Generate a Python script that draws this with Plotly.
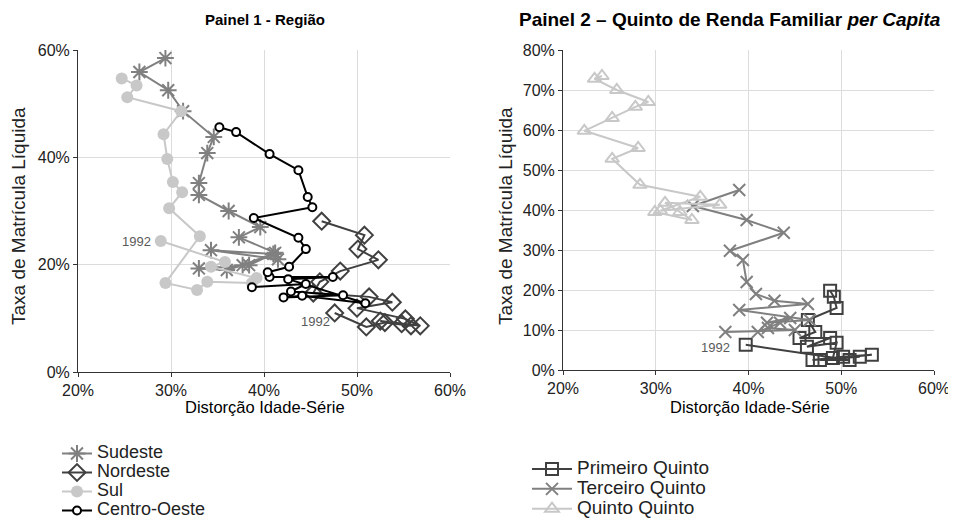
import plotly.graph_objects as go

# Painel 1 - Regiao (distorcao idade-serie x taxa de matricula liquida, em %)
sudeste_x = [41.5, 34.3, 41.0, 38.4, 33.0, 36.0, 37.7, 41.2, 37.3, 39.6, 36.2, 33.0, 33.0, 33.9, 34.6, 31.3, 29.7, 26.6, 29.4]
sudeste_y = [21.0, 22.7, 22.0, 19.9, 19.3, 19.0, 19.9, 22.2, 25.1, 27.0, 30.0, 33.0, 35.2, 40.8, 43.8, 48.6, 52.5, 55.9, 58.5]

nordeste_x = [47.6, 51.0, 53.0, 55.8, 52.5, 54.8, 56.8, 55.2, 50.0, 53.8, 51.3, 45.3, 46.0, 48.2, 52.3, 50.1, 50.8, 46.2]
nordeste_y = [11.0, 8.4, 9.2, 8.6, 9.5, 9.0, 8.6, 9.9, 11.9, 13.0, 14.0, 14.7, 16.8, 18.8, 20.9, 22.9, 25.5, 28.1]

sul_x = [28.9, 35.8, 34.3, 39.2, 38.7, 33.9, 32.8, 29.4, 33.1, 29.8, 31.2, 30.2, 29.6, 29.2, 31.1, 25.3, 26.3, 24.7]
sul_y = [24.4, 20.5, 19.6, 17.5, 16.6, 16.8, 15.3, 16.6, 25.3, 30.5, 33.5, 35.4, 39.7, 44.3, 48.6, 51.2, 53.4, 54.7]

co_x = [38.7, 44.5, 42.9, 48.5, 42.1, 44.1, 50.9, 42.6, 47.4, 40.6, 40.4, 42.7, 44.5, 43.7, 38.9, 45.2, 44.7, 43.7, 40.6, 37.0, 35.2]
co_y = [15.8, 16.4, 15.0, 14.3, 13.9, 14.2, 12.8, 17.3, 17.7, 17.7, 18.6, 19.6, 22.9, 25.0, 28.7, 30.7, 32.6, 37.6, 40.6, 44.7, 45.6]

# Painel 2 - Quinto de renda familiar per capita
primeiro_x = [39.7, 50.9, 47.7, 53.3, 50.2, 46.9, 52.0, 49.1, 49.5, 46.3, 48.8, 45.5, 47.2, 46.4, 49.5, 49.2, 48.8]
primeiro_y = [6.3, 2.5, 2.5, 3.8, 3.3, 2.5, 3.3, 3.0, 6.8, 5.8, 8.0, 8.0, 9.5, 12.5, 15.5, 18.3, 19.8]

terceiro_x = [37.5, 45.0, 42.1, 41.0, 43.4, 44.5, 42.0, 46.6, 39.0, 46.4, 42.8, 40.8, 39.8, 39.4, 38.0, 43.8, 39.8, 34.0, 39.0]
terceiro_y = [9.5, 10.0, 10.5, 9.5, 11.8, 13.0, 11.8, 12.5, 15.0, 16.5, 17.3, 19.0, 22.0, 27.5, 29.8, 34.3, 37.5, 41.0, 45.0]

quinto_x = [29.9, 33.9, 32.6, 31.0, 36.9, 30.5, 34.8, 28.3, 25.3, 28.1, 22.3, 25.3, 27.8, 29.2, 25.8, 23.4, 24.2]
quinto_y = [39.5, 37.5, 39.5, 41.8, 41.3, 39.8, 43.3, 46.3, 52.8, 55.5, 59.8, 63.0, 65.8, 67.0, 70.0, 72.8, 73.5]

LIGHT = "#c8c8c8"
MID = "#808080"
DARK = "#404040"
FONT = "Liberation Sans, Arial, sans-serif"
W, H = 956, 519
OFF = 8  # page body margin


def px(r):
    return (r - OFF) / W


def py(r):
    return 1 - (r - OFF) / H


fig = go.Figure()


def add(x, y, name, color, symbol, size, xa, ya, leg, tsize, fill=None, mlw=2):
    fig.add_trace(go.Scatter(
        x=x, y=y, mode="lines+markers",
        name='<span style="font-size:%dpx">%s</span>' % (tsize, name),
        line=dict(color=color, width=2),
        marker=dict(symbol=symbol, size=size, color=fill or color,
                    line=dict(color=color, width=mlw)),
        xaxis=xa, yaxis=ya, legend=leg,
    ))


add(sudeste_x, sudeste_y, "Sudeste", MID, "asterisk-open", 14, "x", "y", "legend", 18)
add(nordeste_x, nordeste_y, "Nordeste", DARK, "diamond-open", 13, "x", "y", "legend", 18)
add(sul_x, sul_y, "Sul", LIGHT, "circle", 12, "x", "y", "legend", 18, mlw=0)
add(co_x, co_y, "Centro-Oeste", "black", "circle", 8, "x", "y", "legend", 18, fill="white")

add(primeiro_x, primeiro_y, "Primeiro Quinto", DARK, "square-open", 12, "x2", "y2", "legend2", 19)
add(terceiro_x, terceiro_y, "Terceiro Quinto", MID, "x-thin-open", 12, "x2", "y2", "legend2", 19)
add(quinto_x, quinto_y, "Quinto Quinto", LIGHT, "triangle-up-open", 12, "x2", "y2", "legend2", 19)

axis_common = dict(
    showgrid=True, gridcolor="#dcdcdc", gridwidth=1,
    showline=True, linecolor="#333333", linewidth=1,
    ticks="outside", ticklen=4, tickcolor="#333333",
    ticksuffix="%", tickfont=dict(size=16, color="#222222"),
    zeroline=False, automargin=False,
)

fig.update_layout(
    width=W, height=H,
    margin=dict(l=0, r=0, t=0, b=0, autoexpand=False),
    paper_bgcolor="white", plot_bgcolor="white",
    font=dict(family=FONT, color="#222222"),
    xaxis=dict(domain=[px(78), px(450)], range=[20, 60], dtick=10, anchor="y", **axis_common),
    yaxis=dict(domain=[py(372), py(50)], range=[0, 60], dtick=20, anchor="x", **axis_common),
    xaxis2=dict(domain=[px(563), px(934)], range=[20, 60], dtick=10, anchor="y2", **axis_common),
    yaxis2=dict(domain=[py(370), py(50)], range=[0, 80], dtick=10, anchor="x2", **axis_common),
    legend=dict(x=px(57), y=py(439), xanchor="left", yanchor="top",
                font=dict(size=12, color="#222222"), tracegroupgap=0,
                itemwidth=30, bgcolor="rgba(0,0,0,0)"),
    legend2=dict(x=px(527), y=py(454), xanchor="left", yanchor="top",
                 font=dict(size=13, color="#222222"), tracegroupgap=0,
                 itemwidth=40, bgcolor="rgba(0,0,0,0)"),
    showlegend=True,
)

annotations = [
    dict(text="<b>Painel 1 - Região</b>", x=265, y=20, size=15),
    dict(text="<b>Painel 2 – Quinto de Renda Familiar <i>per Capita</i></b>", x=730, y=20, size=19),
    dict(text="Distorção Idade-Série", x=265, y=407, size=16.5),
    dict(text="Distorção Idade-Série", x=750, y=407, size=16.5),
]
for a in annotations:
    fig.add_annotation(
        text=a["text"], xref="paper", yref="paper",
        x=px(a["x"]), y=py(a["y"]), xanchor="center", yanchor="middle",
        showarrow=False, font=dict(size=a["size"], color="black", family=FONT),
    )
for xp in [18, 505]:
    fig.add_annotation(
        text="Taxa de Matrícula Líquida", xref="paper", yref="paper",
        x=px(xp), y=py(216), textangle=-90, showarrow=False,
        xanchor="center", yanchor="middle", font=dict(size=19, color="#222222", family=FONT),
    )

# rotulos do ano inicial
fig.add_annotation(text="1992", x=sul_x[0], y=sul_y[0], xref="x", yref="y",
                   xanchor="right", xshift=-8, showarrow=False,
                   font=dict(size=13, color="#595959", family=FONT))
fig.add_annotation(text="1992", x=nordeste_x[0], y=nordeste_y[0], xref="x", yref="y",
                   xanchor="right", yanchor="middle", xshift=-3, yshift=-9, showarrow=False,
                   font=dict(size=13, color="#595959", family=FONT))
fig.add_annotation(text="1992", x=primeiro_x[0], y=primeiro_y[0], xref="x2", yref="y2",
                   xanchor="right", yanchor="middle", xshift=-14, yshift=-3, showarrow=False,
                   font=dict(size=13, color="#595959", family=FONT))

fig.write_html("out.html")
